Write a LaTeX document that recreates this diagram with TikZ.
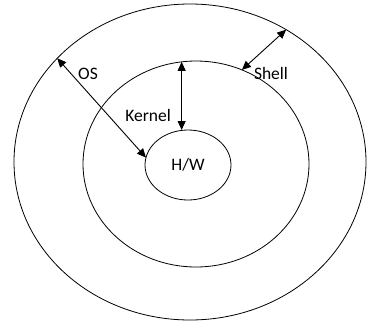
\documentclass[tikz,border=0pt]{standalone}
\usepackage{fontspec}
\setmainfont{Carlito}
\usepackage{tikz}
\usetikzlibrary{arrows.meta, positioning, shapes.geometric}

\begin{document}
\begin{tikzpicture}[x=1pt, y=-1pt,
    layer/.style={draw, ellipse, line width=0.8pt, inner sep=0pt, outer sep=0pt},
    lbl/.style={font=\fontsize{17.5}{20}\selectfont},
    dblarrow/.style={line width=0.9pt, {Triangle[length=9pt,width=8pt]}-{Triangle[length=9pt,width=8pt]}}]
  \useasboundingbox (0,0) rectangle (367,322);

  % === Couches ===
  \node[layer, minimum width=352pt, minimum height=316pt] (os) at (190,162) {};
  \node[layer, minimum width=226pt, minimum height=206pt] (shell) at (196,164) {};
  \node[layer, minimum width=86pt, minimum height=70pt, lbl] (hw) at (188,165) {H/W};

  % === Etiquettes ===
  \node[lbl] (oslbl) at (88,74) {OS};
  \node[lbl] (kernellbl) at (148,115) {Kernel};
  \node[lbl] (shelllbl) at (271,73) {Shell};

  % === Fleches ===
  \draw[dblarrow] (os.142) -- (hw.170);
  \draw[dblarrow] (shell.98) -- (shell.98 |- hw.north);
  \draw[dblarrow] (shell.64) -- (os.54);
\end{tikzpicture}
\end{document}
